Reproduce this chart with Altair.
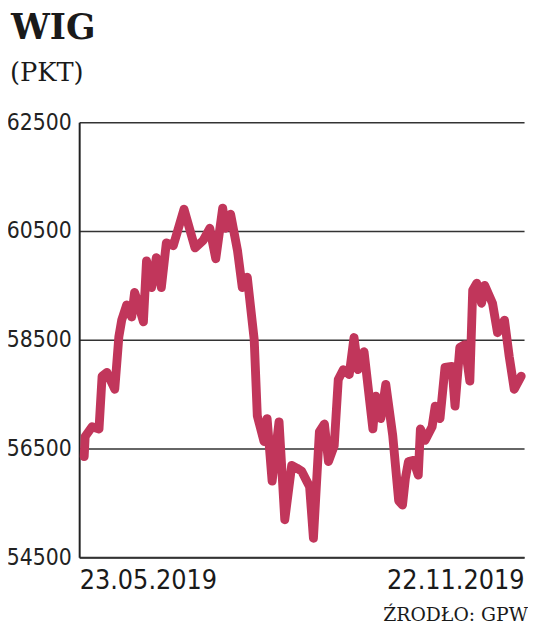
import altair as alt
import pandas as pd

# Reading of the WIG index (points), day offset from 23.05.2019
dzien = [0, 0.4, 3.3, 6.2, 7.5, 9.5, 12.8, 14.5, 15.7, 17.8, 19.9, 21.1, 22.8, 24.8,
         26.1, 28.2, 30.2, 32.3, 34.4, 37.3, 41.8, 46.4, 49.7, 52.6, 55.1, 58.0, 59.2,
         61.3, 64.2, 66.2, 68.3, 71.2, 72.5, 75.3, 76.6, 78.7, 81.6, 84.0, 86.9, 89.0,
         91.1, 93.2, 94.4, 96.0, 98.5, 100.6, 102.3, 104.7, 106.4, 108.5, 111.0, 113.0,
         114.7, 117.2, 120.9, 122.1, 124.2, 126.3, 129.2, 131.7, 133.3, 134.5, 135.8,
         137.9, 139.9, 140.8, 142.8, 145.7, 147.0, 149.0, 151.1, 154.0, 155.3, 157.3,
         159.4, 161.5, 162.7, 164.4, 166.4, 167.7, 171.0, 173.1, 176.0, 178.0, 180.1, 183.0]
wig = [56350, 56720, 56900, 56860, 57830, 57900, 57590, 58550, 58860, 59140, 58920, 59370,
       59140, 58830, 59950, 59460, 60010, 59460, 60280, 60230, 60900, 60190, 60320, 60550,
       59990, 60920, 60550, 60810, 60140, 59460, 59650, 58500, 57100, 56630, 57050, 55900,
       56990, 55190, 56190, 56140, 56080, 55900, 55800, 54850, 56810, 56950, 56260, 56550,
       57770, 57950, 57860, 58540, 57950, 58280, 56860, 57460, 57050, 57680, 56740, 55540,
       55460, 55950, 56260, 56280, 56010, 56860, 56650, 56900, 57280, 57050, 57990, 58010,
       57280, 58360, 58410, 57740, 59410, 59540, 59170, 59500, 59170, 58630, 58860, 58190,
       57590, 57830]

y_ticks = [54500, 56500, 58500, 60500, 62500]
date_labels = ["23.05.2019", "22.11.2019"]
title_txt = "WIG"
unit_txt = "(PKT)"
source_txt = "ŹRODŁO: GPW"

df = pd.DataFrame({"dzien": dzien, "wig": wig})

x_dom = [-2.1, 184.2]

line = alt.Chart(df).mark_line(
    color="#c1365b", strokeWidth=9, strokeCap="round", strokeJoin="round"
).encode(
    x=alt.X("dzien:Q", scale=alt.Scale(domain=x_dom, nice=False, zero=False),
            axis=alt.Axis(values=x_dom, title=None, grid=False, ticks=False,
                          labelExpr=f"datum.value < 50 ? '{date_labels[0]}' : '{date_labels[1]}'",
                          labelFlush=True, labelFont="DejaVu Sans Condensed, DejaVu Sans, sans-serif",
                          labelFontSize=27, labelFontWeight=500, labelColor="#1a1a1a", labelPadding=11,
                          labelBaseline="top",
                          domainColor="#333333", domainWidth=2)),
    y=alt.Y("wig:Q", scale=alt.Scale(domain=[54500, 62500], nice=False, zero=False),
            axis=alt.Axis(values=y_ticks, title=None, grid=True, gridColor="#333333",
                          gridWidth=1.5, gridOpacity=1, ticks=False, format="d",
                          labelFont="DejaVu Sans Condensed, DejaVu Sans, sans-serif",
                          labelFontSize=23, labelColor="#222222", labelPadding=8,
                          labelBaseline="middle",
                          domainColor="#222222", domainWidth=2)),
)

def txt(s, x, y, size, font, weight="normal", align="left", color="#1a1a1a"):
    return alt.Chart(pd.DataFrame({"t": [s]})).mark_text(
        align=align, baseline="alphabetic", fontSize=size, font=font,
        fontWeight=weight, color=color
    ).encode(x=alt.value(x), y=alt.value(y), text="t:N")

title = txt(title_txt, -69, -84, 35, "DejaVu Serif", "bold")
unit = txt(unit_txt, -70, -42, 26, "DejaVu Serif")
source = txt(source_txt, 454, 505, 19, "DejaVu Serif", align="right")

chart = alt.layer(line, title, unit, source).properties(
    width=450, height=440,
    autosize=alt.AutoSizeParams(type="none"),
    padding={"left": 72, "top": 112, "right": 4, "bottom": 68},
).configure_view(stroke=None)

chart.save("out.html", embed_options={"renderer": "svg", "actions": False})
